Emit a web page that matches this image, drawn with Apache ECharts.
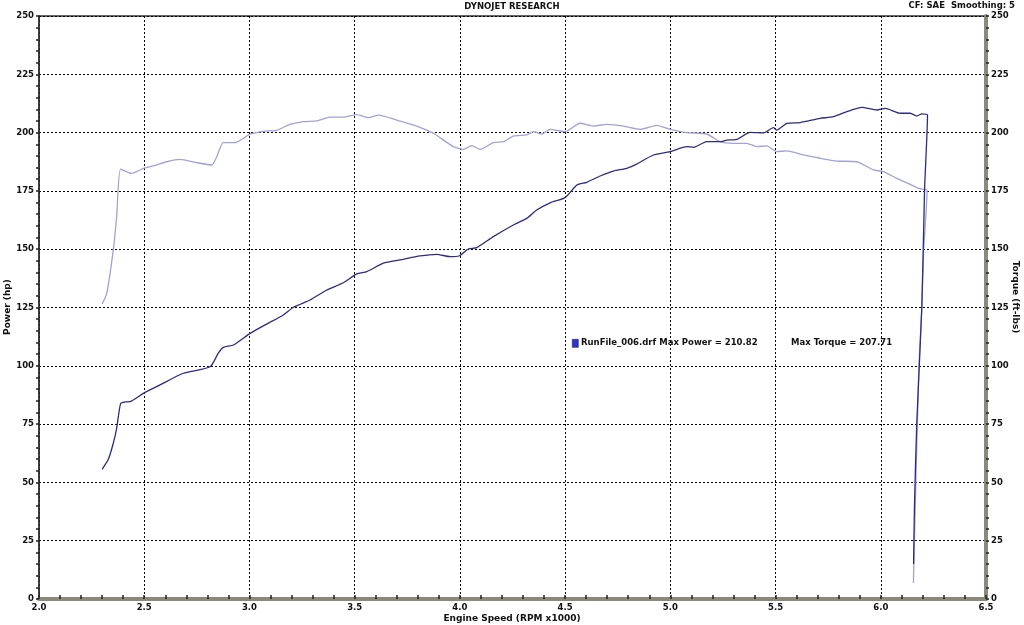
<!DOCTYPE html>
<html>
<head>
<meta charset="utf-8">
<script src="https://cdn.jsdelivr.net/npm/echarts@6/dist/echarts.min.js"></script>
<style>
html,body{margin:0;padding:0;background:#fff;}
#chart{width:1024px;height:625px;}
</style>
</head>
<body>
<div id="chart"></div>
<script>
var xTicks = [2.0, 2.5, 3.0, 3.5, 4.0, 4.5, 5.0, 5.5, 6.0, 6.5];
var yTicks = [0, 25, 50, 75, 100, 125, 150, 175, 200, 225, 250];

var powerRpm = [2.30,2.33,2.353,2.369,2.388,2.41,2.433,2.496,2.575,2.686,2.813,2.852,2.876,2.924,3.003,3.082,3.161,3.209,3.288,3.367,3.446,3.51,3.558,3.637,3.716,3.811,3.89,3.953,3.998,4.04,4.08,4.159,4.254,4.318,4.365,4.429,4.5,4.556,4.603,4.667,4.73,4.793,4.84,4.92,4.999,5.078,5.11,5.173,5.236,5.268,5.316,5.379,5.443,5.49,5.506,5.554,5.617,5.712,5.775,5.839,5.91,5.981,6.021,6.092,6.14,6.171,6.195,6.222,6.208,6.195,6.171,6.160,6.156];
var powerHp = [55.6,60,66.8,73.2,83.9,84.5,84.6,88.2,91.8,96.8,99.6,105.4,107.9,108.9,113.9,117.9,121.8,125.1,128.2,132.5,135.6,139.4,140.4,144,145.4,147.1,147.8,146.8,147.2,150.1,150.7,155.4,160.4,163.2,166.8,169.9,172.1,177.5,178.7,181.4,183.5,184.7,186.5,190.4,191.8,194,193.7,196.1,196.1,196.8,197.1,200.1,199.9,202.1,201.1,204,204.3,206.1,206.8,209,210.8,209.7,210.4,208.3,208.3,207.1,208,207.5,175.4,125,75.4,39.6,15];

var torqueRpm = [2.30,2.322,2.353,2.369,2.388,2.44,2.496,2.543,2.607,2.67,2.75,2.821,2.845,2.876,2.932,3.003,3.082,3.122,3.193,3.256,3.32,3.383,3.446,3.51,3.565,3.613,3.70,3.795,3.874,3.969,4.017,4.056,4.096,4.159,4.207,4.254,4.318,4.35,4.389,4.429,4.5,4.571,4.635,4.698,4.777,4.857,4.936,4.999,5.078,5.173,5.236,5.30,5.363,5.411,5.458,5.506,5.554,5.633,5.712,5.791,5.886,5.965,6.013,6.076,6.14,6.18,6.204,6.22,6.204,6.195,6.18,6.155];
var torqueLbft = [126.5,131.1,149.7,164,184.3,182.5,184.7,185.7,187.5,188.5,187.1,186.1,189.7,195.7,195.7,199.3,200.7,200.8,203.5,204.7,205,206.6,206.6,207.7,206.4,207.5,205.4,202.8,199.7,194,192.8,194.4,192.8,195.7,196.1,198.5,199,200.4,199.4,201.4,200.4,204,202.8,203.5,202.8,201.4,203.1,201.4,200,199.4,196.1,195.4,195.4,194,194.3,191.8,192.2,190.4,189,187.8,187.5,184,183.3,180.4,177.8,176.1,175.7,175.4,149.7,125,96.8,6.9];

var titleText = 'DYNOJET RESEARCH';
var cornerText = 'CF: SAE  Smoothing: 5';
var legendText = 'RunFile_006.drf Max Power = 210.82';
var legendText2 = 'Max Torque = 207.71';
var xName = 'Engine Speed (RPM x1000)';
var yLeftName = 'Power (hp)';
var yRightName = 'Torque (ft-lbs)';

function pairs(xs, ys) { return xs.map(function (x, i) { return [x, ys[i]]; }); }

var FONT = 'DejaVu Sans';
var TXT = 'bold 8.5px "DejaVu Sans"';
var NAMEFONT = 'bold 9px "DejaVu Sans"';
var chart = echarts.init(document.getElementById('chart'));

var yAxisBase = function (pos) {
  return {
    type: 'value', position: pos, min: yTicks[0], max: yTicks[yTicks.length - 1], interval: 25,
    axisLabel: { fontFamily: FONT, fontWeight: 'bold', fontSize: 8.5, color: '#111', margin: 5 },
    axisTick: { show: true, length: 3, lineStyle: { color: '#222', width: 1.5 } },
    minorTick: { show: true, splitNumber: 5, length: 3, lineStyle: { color: '#222', width: 1.5 } },
    splitLine: { show: pos === 'left', lineStyle: { color: '#000', width: 1, type: [2, 2] } }
  };
};

var yLeft = yAxisBase('left');
yLeft.axisLine = { show: true, lineStyle: { color: '#333', width: 1.5 } };
var yRight = yAxisBase('right');
yRight.axisLine = { show: true, lineStyle: { color: '#8c887c', width: 4 } };

chart.setOption({
  animation: false,
  backgroundColor: '#fff',
  grid: { left: 39, right: 38, top: 16, bottom: 26, containLabel: false, outerBoundsMode: 'none',
    show: true, borderColor: '#333', borderWidth: 1.5 },
  xAxis: {
    type: 'value', min: xTicks[0], max: xTicks[xTicks.length - 1], interval: 0.5,
    axisLine: { show: true, lineStyle: { color: '#8c887c', width: 4 } },
    axisTick: { show: true, inside: true, length: 4, lineStyle: { color: '#222', width: 1.5 } },
    minorTick: { show: true, splitNumber: 5, length: 4, lineStyle: { color: '#222', width: 1.5 } },
    axisLabel: { fontFamily: FONT, fontWeight: 'bold', fontSize: 8.5, color: '#111', margin: 4,
      formatter: function (v) { return v.toFixed(1); } },
    splitLine: { show: true, lineStyle: { color: '#000', width: 1, type: [2, 2] } }
  },
  yAxis: [yLeft, yRight],
  series: [
    { name: 'Power', type: 'line', yAxisIndex: 0, data: pairs(powerRpm, powerHp), showSymbol: false,
      smooth: 0.2, lineStyle: { color: '#2c2c80', width: 1.3 }, z: 3 },
    { name: 'Torque', type: 'line', yAxisIndex: 1, data: pairs(torqueRpm, torqueLbft), showSymbol: false,
      smooth: 0.2, lineStyle: { color: '#a2a2d4', width: 1.3 }, z: 2 }
  ],
  graphic: [
    { type: 'text', left: 'center', top: 2, style: { text: titleText, font: TXT, fill: '#111' } },
    { type: 'text', right: 9, top: 1, style: { text: cornerText, font: TXT, fill: '#111' } },
    { type: 'rect', left: 572, top: 339, shape: { width: 6, height: 8 }, style: { fill: '#3333cc', stroke: '#1a1a66', lineWidth: 0.6 } },
    { type: 'text', left: 581, top: 338, style: { text: legendText, font: TXT, fill: '#111' } },
    { type: 'text', left: 791, top: 338, style: { text: legendText2, font: TXT, fill: '#111' } },
    { type: 'text', x: 512, y: 619, style: { text: xName, font: NAMEFONT, fill: '#111', align: 'center', verticalAlign: 'middle' } },
    { type: 'text', x: 8, y: 307, rotation: Math.PI / 2, style: { text: yLeftName, font: NAMEFONT, fill: '#111', align: 'center', verticalAlign: 'middle' } },
    { type: 'text', x: 1015, y: 297, rotation: -Math.PI / 2, style: { text: yRightName, font: NAMEFONT, fill: '#111', align: 'center', verticalAlign: 'middle' } }
  ]
});
</script>
</body>
</html>
